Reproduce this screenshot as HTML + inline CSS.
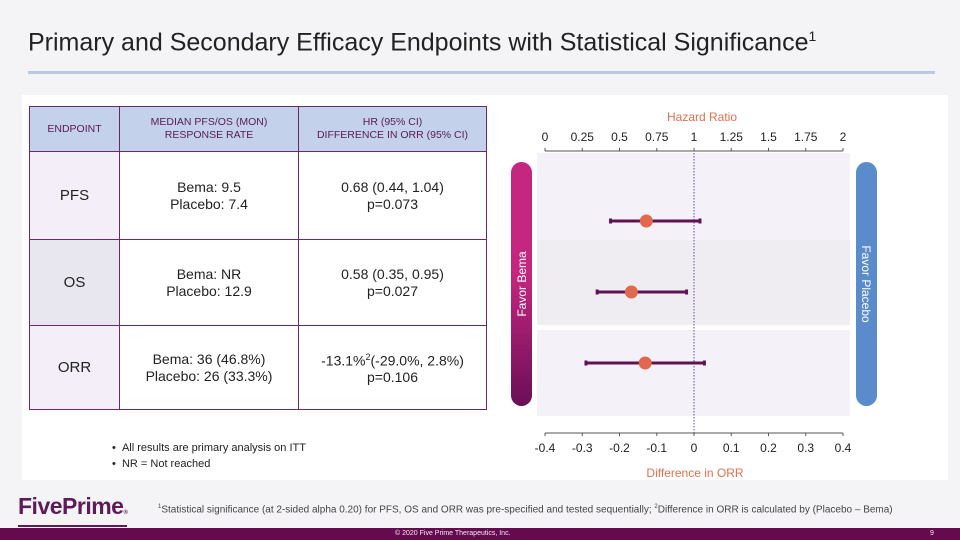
<!DOCTYPE html>
<html><head><meta charset="utf-8"><style>
body{margin:0;width:960px;height:540px;overflow:hidden;background:#f4f4f6;font-family:"Liberation Sans",sans-serif;position:relative}
.abs{position:absolute}
table{border-collapse:collapse;position:absolute;left:29px;top:106px;width:458px}
td{border:1.5px solid #6b2a66;text-align:center;color:#222;font-size:14px;line-height:17px;padding:0}
th{border:1.5px solid #6b2a66;background:#c3d2ea;color:#5a1a55;font-weight:normal;font-size:10.5px;line-height:13px;height:44px;padding:0}
</style></head><body>
<div class="abs" style="left:28px;top:28px;font-size:25px;color:#222">Primary and Secondary Efficacy Endpoints with Statistical Significance<sup style="font-size:14px">1</sup></div>
<div class="abs" style="left:28px;top:71px;width:907px;height:3px;background:#b8cbe6"></div>
<div class="abs" style="left:22px;top:95px;width:926px;height:385px;background:#fff"></div>
<table>
<tr><th style="width:89px">ENDPOINT</th><th style="width:178px">MEDIAN PFS/OS (MON)<br>RESPONSE RATE</th><th>HR (95% CI)<br>DIFFERENCE IN ORR (95% CI)</th></tr>
<tr style="height:88px"><td style="background:#f3eef7;font-size:15px">PFS</td><td>Bema: 9.5<br>Placebo: 7.4</td><td>0.68 (0.44, 1.04)<br>p=0.073</td></tr>
<tr style="height:86px"><td style="background:#e8e6ef;font-size:15px">OS</td><td>Bema: NR<br>Placebo: 12.9</td><td>0.58 (0.35, 0.95)<br>p=0.027</td></tr>
<tr style="height:84px"><td style="background:#f3eef7;font-size:15px">ORR</td><td>Bema: 36 (46.8%)<br>Placebo: 26 (33.3%)</td><td>-13.1%<sup style="font-size:9px">2</sup>(-29.0%, 2.8%)<br>p=0.106</td></tr>
</table>
<div class="abs" style="left:112px;top:440px;font-size:11px;line-height:16px;color:#222">•&nbsp;&nbsp;All results are primary analysis on ITT<br>•&nbsp;&nbsp;NR = Not reached</div>
<svg class="abs" style="left:0;top:0" width="960" height="540" id="chart"></svg>
<div class="abs" style="left:18px;top:494px;font-size:23px;font-weight:bold;color:#5e1b5b;letter-spacing:-0.5px;border-bottom:2px solid #5e1b5b;line-height:24px">FivePrime<span style="font-size:6px">®</span></div>
<div class="abs" style="left:158px;top:504px;font-size:10px;color:#444"><sup style="font-size:6px">1</sup>Statistical significance (at 2-sided alpha 0.20) for PFS, OS and ORR was pre-specified and tested sequentially; <sup style="font-size:6px">2</sup>Difference in ORR is calculated by (Placebo – Bema)</div>
<div class="abs" style="left:0;top:528px;width:960px;height:12px;background:#650a4e;color:#eee;font-size:7px;line-height:12px"><span style="position:absolute;left:395px">© 2020 Five Prime Therapeutics, Inc.</span><span style="position:absolute;left:930px">9</span></div>
<script>
const endpoints=['PFS','OS','ORR'];
const hrValues=[0.68,0.58];
const hrLow=[0.44,0.35];
const hrHigh=[1.04,0.95];
const orrValue=[-0.131];
const orrLow=[-0.29];
const orrHigh=[0.028];
const topTicks=[0,0.25,0.5,0.75,1,1.25,1.5,1.75,2];
const topTickLabels=['0','0.25','0.5','0.75','1','1.25','1.5','1.75','2'];
const bottomTicks=[-0.4,-0.3,-0.2,-0.1,0,0.1,0.2,0.3,0.4];
const bottomTickLabels=['-0.4','-0.3','-0.2','-0.1','0','0.1','0.2','0.3','0.4'];
const svg=document.getElementById('chart');const NS='http://www.w3.org/2000/svg';
const X0=545,X1=843;
const xHR=v=>X0+(v-0)/(2-0)*(X1-X0);
const xORR=v=>X0+(v+0.4)/0.8*(X1-X0);
const rowY=[221,292,363];
function mk(t,a,name){const e=document.createElementNS(NS,t);for(const k in a)e.setAttribute(k,a[k]);


svg.appendChild(e);return e;}
let defs=document.createElementNS(NS,'defs');defs.innerHTML='<linearGradient id="gb" x1="0" y1="0" x2="0" y2="1"><stop offset="0.45" stop-color="#c5267f"/><stop offset="1" stop-color="#6a0f58"/></linearGradient>';svg.appendChild(defs);
mk('rect',{x:537,y:153,width:313,height:87,fill:'#f4f1f8'},'row-band-pfs');
mk('rect',{x:537,y:240,width:313,height:85,fill:'#efecf2'},'row-band-os');
mk('rect',{x:537,y:330,width:313,height:86,fill:'#f4f1f8'},'row-band-orr');
mk('rect',{x:511,y:162,width:21,height:244,rx:10.5,fill:'url(#gb)'},'favor-bema-pill');
mk('rect',{x:856,y:162,width:21,height:244,rx:10.5,fill:'#5a8bcb'},'favor-placebo-pill');
let t=mk('text',{x:0,y:0,transform:'translate(526,284) rotate(-90)','text-anchor':'middle','font-size':12,fill:'#fff'},'favor-bema-label');t.textContent='Favor Bema';
t=mk('text',{x:0,y:0,transform:'translate(862,284) rotate(90)','text-anchor':'middle','font-size':12,fill:'#fff'},'favor-placebo-label');t.textContent='Favor Placebo';
mk('line',{x1:xORR(0),y1:153,x2:xORR(0),y2:433,stroke:'#6a4a9a','stroke-width':1,'stroke-dasharray':'1.5,1.5'},'reference-line');
mk('line',{x1:X0,y1:151,x2:X1,y2:151,stroke:'#555'},'top-axis');
topTicks.forEach((v,i)=>{mk('line',{x1:xHR(v),y1:148,x2:xHR(v),y2:151,stroke:'#555'},'top-tick');
const tt=mk('text',{x:xHR(v),y:141,'text-anchor':'middle','font-size':12,fill:'#222'},'top-tick-label');tt.textContent=topTickLabels[i];});
mk('line',{x1:X0,y1:433,x2:X1,y2:433,stroke:'#555'},'bottom-axis');
bottomTicks.forEach((v,i)=>{mk('line',{x1:xORR(v),y1:433,x2:xORR(v),y2:436,stroke:'#555'},'bottom-tick');
const tt=mk('text',{x:xORR(v),y:452,'text-anchor':'middle','font-size':12,fill:'#222'},'bottom-tick-label');tt.textContent=bottomTickLabels[i];});
t=mk('text',{x:702,y:121,'text-anchor':'middle','font-size':12,fill:'#e0704f'},'top-axis-title');t.textContent='Hazard Ratio';
t=mk('text',{x:695,y:477,'text-anchor':'middle','font-size':12,fill:'#e0704f'},'bottom-axis-title');t.textContent='Difference in ORR';
function ci(y,lo,hi,v,n){mk('line',{x1:lo,y1:y,x2:hi,y2:y,stroke:'#5e1454','stroke-width':3},n+'-ci');
mk('rect',{x:lo-1.5,y:y-2.5,width:3,height:5,fill:'#5e1454'},n+'-ci-cap-low');
mk('rect',{x:hi-1.5,y:y-2.5,width:3,height:5,fill:'#5e1454'},n+'-ci-cap-high');
mk('circle',{cx:v,cy:y,r:6.5,fill:'#e0684c'},n+'-point');}
hrValues.forEach((v,i)=>ci(rowY[i],xHR(hrLow[i]),xHR(hrHigh[i]),xHR(v),endpoints[i].toLowerCase()));
ci(rowY[2],xORR(orrLow[0]),xORR(orrHigh[0]),xORR(orrValue[0]),'orr');
</script>
</body></html>
